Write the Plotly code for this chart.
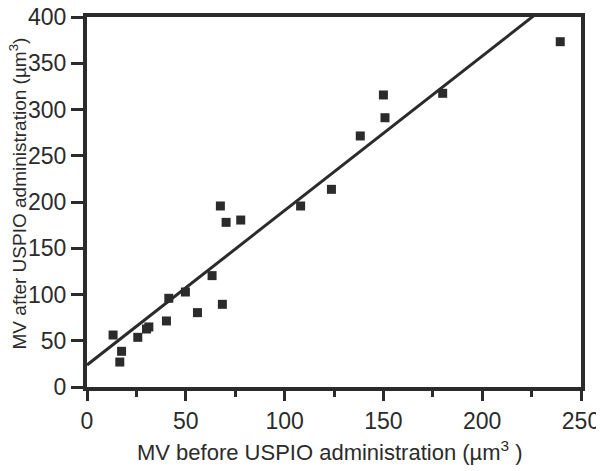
import plotly.graph_objects as go

# MV before / after USPIO administration (um^3)
mv_before = [13.2, 16.6, 17.5, 25.7, 30.1, 31.3, 40.2, 41.4, 49.8, 55.9, 63.3,
             67.5, 68.5, 70.4, 77.8, 108.1, 123.7, 138.3, 150.0, 150.8, 180.0, 239.5]
mv_after = [56.2, 27.0, 38.6, 53.7, 62.7, 64.9, 71.4, 95.9, 102.7, 80.4, 120.4,
            195.7, 89.4, 178.0, 180.5, 195.7, 213.7, 271.4, 315.7, 291.1, 317.5, 373.3]

# regression line
fit_intercept = 23.8
fit_slope = 1.67
fit_x = [0, 250]
fit_y = [fit_intercept + fit_slope * v for v in fit_x]

INK = "#2b2b2b"
FONT = "Liberation Sans, Arial, sans-serif"

fig = go.Figure()
fig.add_trace(go.Scatter(x=fit_x, y=fit_y, mode="lines",
                         line=dict(color=INK, width=3), showlegend=False))
fig.add_trace(go.Scatter(x=mv_before, y=mv_after, mode="markers",
                         marker=dict(symbol="square", size=9, color=INK),
                         showlegend=False, cliponaxis=False))

axis_common = dict(
    showline=True, linecolor=INK, linewidth=4, mirror=True,
    showgrid=False, zeroline=False, automargin=False,
    ticks="outside", tickcolor=INK, tickwidth=3, ticklabeloverflow="allow",
    tickfont=dict(family=FONT, size=23, color=INK),
)

# the page body adds an 8px offset, so the figure is 8px smaller here
fig.update_layout(
    width=596, height=463,
    margin=dict(l=79, r=23, t=9, b=84),
    paper_bgcolor="white", plot_bgcolor="white",
    font=dict(family=FONT, color=INK),
    xaxis=dict(range=[0, 250], tickvals=[0, 50, 100, 150, 200, 250], ticklen=10,
               minor=dict(ticks="outside", dtick=25, ticklen=6, tickwidth=3, tickcolor=INK),
               **axis_common),
    yaxis=dict(range=[0, 400], tickvals=[0, 50, 100, 150, 200, 250, 300, 350, 400],
               ticklen=12, **axis_common),
    annotations=[
        dict(text="MV before USPIO administration (µm<sup>3</sup> )",
             xref="paper", yref="paper", x=0.491, y=-0.172, yanchor="middle",
             showarrow=False, font=dict(family=FONT, size=22, color=INK)),
        dict(text="MV after USPIO administration (µm<sup>3</sup>)",
             xref="paper", yref="paper", x=-0.139, y=0.524, textangle=-90,
             xanchor="center", yanchor="middle", showarrow=False,
             font=dict(family=FONT, size=19, color=INK)),
    ],
)

fig.write_html("out.html")
